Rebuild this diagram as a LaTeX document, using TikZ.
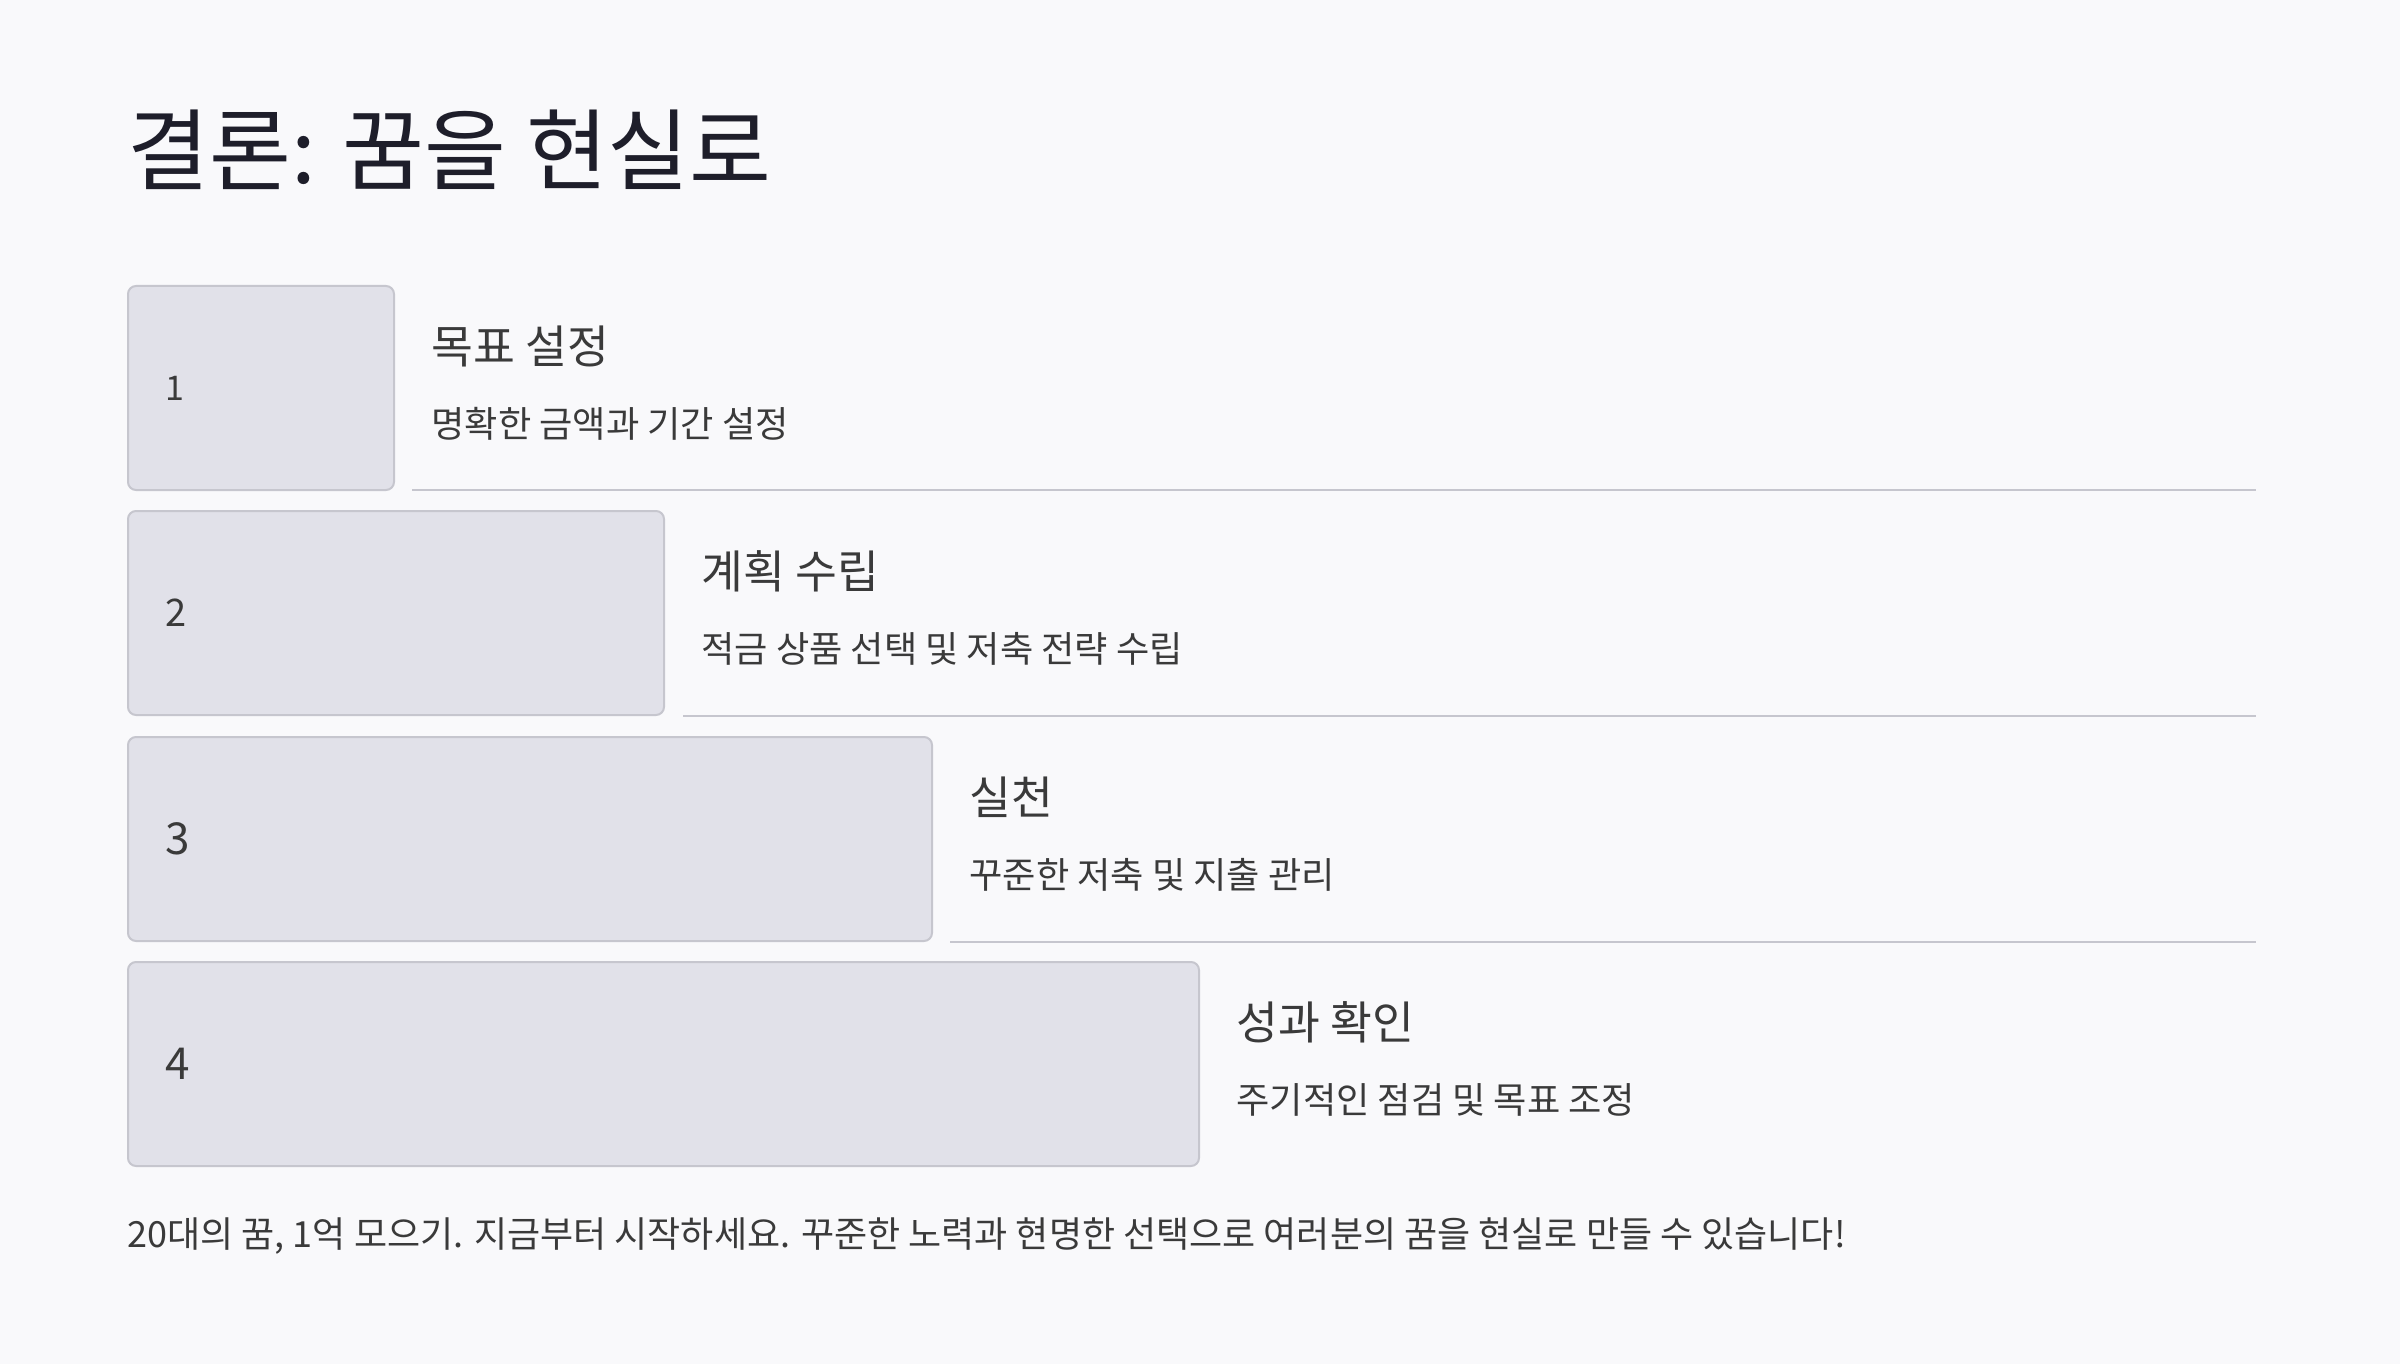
\documentclass[tikz,border=0pt]{standalone}
\usepackage{fontspec}
\newfontfamily\ttlfont{Noto Sans CJK KR}
\newfontfamily\hdfont{Noto Sans CJK KR}
\newfontfamily\dsfont{Noto Sans CJK KR}
\newfontfamily\ftfont{Noto Sans CJK KR}
\newfontfamily\numfont{Noto Sans CJK KR}
\definecolor{bgc}{HTML}{F9F9FB}
\definecolor{ttlc}{HTML}{1E1E2A}
\definecolor{boxfill}{HTML}{E1E1E9}
\definecolor{boxline}{HTML}{C6C6CE}
\definecolor{txtc}{HTML}{3A3A3A}
\tikzset{
  stepbox/.style={draw=boxline, line width=1pt, fill=boxfill, rounded corners=4pt, anchor=north west, inner sep=0pt, minimum height=102pt},
  numtxt/.style={anchor=west, inner sep=0pt, text=txtc, font=\numfont\fontsize{17}{20}\selectfont},
  hdtxt/.style={anchor=west, inner sep=0pt, text=txtc, font=\hdfont\fontsize{22.75}{27}\selectfont},
  dstxt/.style={anchor=west, inner sep=0pt, text=txtc, font=\dsfont\fontsize{18.1}{22}\selectfont},
  sepline/.style={draw=boxline, line width=1pt},
}
\begin{document}
\begin{tikzpicture}[x=0.5pt,y=-0.5pt]
\fill[bgc] (0,0) rectangle (2400,1364);
\useasboundingbox (0,0) rectangle (2400,1364);

\node[anchor=west, inner sep=0pt, text=ttlc, font=\ttlfont\fontsize{44.5}{50}\selectfont] (title) at (127,150) {결론: 꿈을 현실로};

% boxes
\node[stepbox, minimum width=133pt] (b1) at (127,285) {};
\node[stepbox, minimum width=268pt] (b2) at (127,510) {};
\node[stepbox, minimum width=402pt] (b3) at (127,736) {};
\node[stepbox, minimum width=535.5pt] (b4) at (127,961) {};

% numbers
\node[numtxt] (n1) at ([xshift=19pt]b1.west) {1};
\node[numtxt, font=\numfont\fontsize{19}{22}\selectfont] (n2) at ([xshift=19pt]b2.west) {2};
\node[numtxt, font=\numfont\fontsize{22}{26}\selectfont] (n3) at ([xshift=19pt]b3.west) {3};
\node[numtxt, font=\numfont\fontsize{22}{26}\selectfont] (n4) at ([xshift=19pt]b4.west) {4};

% headings and descriptions
\node[hdtxt] (h1) at (431,346) {목표 설정};
\node[dstxt] (d1) at (431,424) {명확한 금액과 기간 설정};
\node[hdtxt] (h2) at (701,571) {계획 수립};
\node[dstxt] (d2) at (701,649) {적금 상품 선택 및 저축 전략 수립};
\node[hdtxt] (h3) at (969,797) {실천};
\node[dstxt] (d3) at (969,875) {꾸준한 저축 및 지출 관리};
\node[hdtxt] (h4) at (1236,1022) {성과 확인};
\node[dstxt] (d4) at (1236,1100) {주기적인 점검 및 목표 조정};

% separator lines
\coordinate (e1) at (2256,490);
\coordinate (e2) at (2256,716);
\coordinate (e3) at (2256,942);
\coordinate (s1) at (412,490);
\coordinate (s2) at (683,716);
\coordinate (s3) at (950,942);
\draw[sepline] (s1) -- (e1);
\draw[sepline] (s2) -- (e2);
\draw[sepline] (s3) -- (e3);

% footer
\node[anchor=west, inner sep=0pt, text=txtc, font=\ftfont\fontsize{18}{21}\selectfont] (foot) at (127,1236) {20대의 꿈, 1억 모으기. 지금부터 시작하세요. 꾸준한 노력과 현명한 선택으로 여러분의 꿈을 현실로 만들 수 있습니다!};
\end{tikzpicture}
\end{document}
